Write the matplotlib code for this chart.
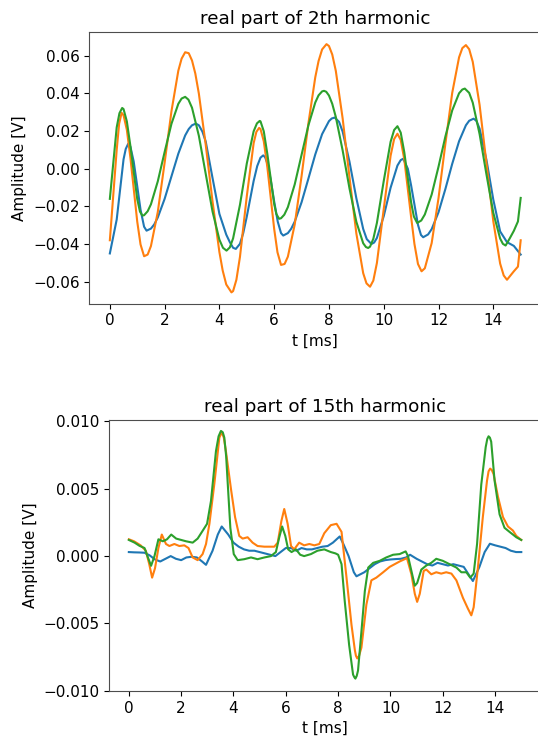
import matplotlib
matplotlib.use('Agg')
import matplotlib.pyplot as plt

plt.rcParams['font.size'] = 11

# (t [ms], amplitude [V]) samples, 2nd harmonic
blue_2 = [(0.0, -0.045), (0.25, -0.027), (0.5, 0.005), (0.58, 0.0105), (0.67, 0.0133),
          (0.75, 0.0117), (0.87, 0.0039), (1.0, -0.0093), (1.12, -0.0217), (1.25, -0.0308),
          (1.34, -0.0329), (1.5, -0.0318), (1.62, -0.0296), (1.75, -0.0259), (2.0, -0.0160),
          (2.25, -0.0040), (2.5, 0.0080), (2.75, 0.0177), (2.88, 0.0211), (3.0, 0.0231),
          (3.14, 0.0240), (3.25, 0.0231), (3.38, 0.0197), (3.5, 0.0145), (3.75, -0.0050),
          (4.0, -0.0240), (4.25, -0.0350), (4.38, -0.0390), (4.5, -0.0420), (4.6, -0.0426),
          (4.75, -0.0399), (4.87, -0.0342), (5.0, -0.0254), (5.25, -0.0065), (5.38, 0.0014),
          (5.5, 0.0059), (5.6, 0.0071), (5.67, 0.0061), (5.75, 0.0028), (5.87, -0.0057),
          (6.0, -0.0174), (6.13, -0.0281), (6.25, -0.0342), (6.33, -0.0355), (6.5, -0.0342),
          (6.62, -0.0319), (6.75, -0.0281), (7.0, -0.0178), (7.25, -0.0052), (7.5, 0.0076),
          (7.75, 0.0184), (8.0, 0.0253), (8.1, 0.0267), (8.21, 0.0272), (8.37, 0.0249),
          (8.5, 0.0197), (8.75, 0.0037), (9.0, -0.0157), (9.25, -0.0320), (9.38, -0.0374),
          (9.55, -0.0400), (9.65, -0.0392), (9.75, -0.0368), (10.0, -0.0252), (10.25, -0.0101),
          (10.5, 0.0017), (10.62, 0.0046), (10.71, 0.0053), (10.88, 0.0), (11.0, -0.0089),
          (11.25, -0.0298), (11.36, -0.0352), (11.44, -0.0364), (11.62, -0.0349), (11.75, -0.0321),
          (12.0, -0.0231), (12.25, -0.0108), (12.5, 0.0026), (12.75, 0.0146), (13.0, 0.0231),
          (13.12, 0.0255), (13.28, 0.0266), (13.38, 0.0255), (13.5, 0.0213), (13.75, 0.0047),
          (14.0, -0.0164), (14.25, -0.0333), (14.5, -0.0390), (14.75, -0.0410), (15.0, -0.0456)]

orange_2 = [(0.0, -0.038), (0.25, 0.010), (0.34, 0.024), (0.43, 0.0297), (0.5, 0.0284),
            (0.62, 0.0207), (0.75, 0.0059), (1.0, -0.0281), (1.12, -0.0402), (1.25, -0.0465),
            (1.38, -0.0456), (1.5, -0.0411), (1.75, -0.0230), (2.0, 0.0032), (2.25, 0.0306),
            (2.5, 0.0521), (2.62, 0.0585), (2.75, 0.0619), (2.88, 0.0614), (3.0, 0.0575),
            (3.12, 0.0506), (3.25, 0.0399), (3.5, 0.0128), (3.75, -0.0175), (4.0, -0.0443),
            (4.12, -0.0541), (4.25, -0.0615), (4.44, -0.0657), (4.5, -0.0650), (4.62, -0.0590),
            (4.75, -0.0469), (5.0, -0.0146), (5.25, 0.0136), (5.35, 0.0196), (5.45, 0.0217),
            (5.5, 0.0211), (5.62, 0.0146), (5.75, 0.0009), (6.0, -0.0320), (6.12, -0.0444),
            (6.25, -0.0511), (6.38, -0.0506), (6.5, -0.0467), (6.75, -0.0296), (7.0, -0.0039),
            (7.25, 0.0242), (7.5, 0.0486), (7.62, 0.0572), (7.75, 0.0634), (7.91, 0.0662),
            (8.0, 0.0652), (8.12, 0.0607), (8.25, 0.0520), (8.5, 0.0267), (8.75, -0.0046),
            (9.0, -0.0344), (9.25, -0.0555), (9.37, -0.0609), (9.5, -0.0627), (9.62, -0.0594),
            (9.75, -0.0501), (10.0, -0.0214), (10.25, 0.0069), (10.38, 0.0158), (10.5, 0.0186),
            (10.62, 0.0153), (10.75, 0.0050), (11.0, -0.0257), (11.12, -0.0399), (11.25, -0.0506),
            (11.38, -0.0545), (11.5, -0.0529), (11.75, -0.0395), (12.0, -0.0156), (12.25, 0.0132),
            (12.5, 0.0403), (12.75, 0.0592), (12.87, 0.0641), (13.0, 0.0657), (13.12, 0.0635),
            (13.25, 0.0568), (13.5, 0.0339), (13.75, 0.0029), (14.0, -0.0279), (14.25, -0.0504),
            (14.38, -0.0567), (14.5, -0.0590), (14.75, -0.0545), (14.9, -0.0520), (15.0, -0.038)]

green_2 = [(0.0, -0.016), (0.25, 0.022), (0.35, 0.0295), (0.45, 0.0323), (0.5, 0.0317),
           (0.62, 0.0252), (0.75, 0.0121), (1.0, -0.0161), (1.1, -0.0228), (1.19, -0.0249),
           (1.25, -0.0247), (1.38, -0.0226), (1.5, -0.0189), (1.75, -0.0067), (2.0, 0.0089),
           (2.25, 0.0239), (2.5, 0.0345), (2.62, 0.0373), (2.75, 0.0382), (2.87, 0.0367),
           (3.0, 0.0324), (3.25, 0.0175), (3.5, -0.0027), (3.75, -0.0228), (4.0, -0.0377),
           (4.13, -0.0420), (4.26, -0.0435), (4.38, -0.0418), (4.5, -0.0370), (4.75, -0.0192),
           (5.0, 0.0028), (5.25, 0.0199), (5.37, 0.0241), (5.47, 0.0254), (5.5, 0.0252),
           (5.62, 0.0199), (5.75, 0.0079), (6.0, -0.0187), (6.08, -0.0241), (6.18, -0.0266),
           (6.25, -0.0263), (6.37, -0.0244), (6.5, -0.0204), (6.75, -0.0083), (7.0, 0.0074),
           (7.25, 0.0231), (7.5, 0.0352), (7.62, 0.0390), (7.75, 0.0411), (7.82, 0.0414),
           (7.9, 0.0409), (8.0, 0.0389), (8.12, 0.0345), (8.25, 0.0275), (8.5, 0.0097),
           (8.75, -0.0105), (9.0, -0.0282), (9.25, -0.0396), (9.35, -0.0416), (9.43, -0.0421),
           (9.5, -0.0414), (9.62, -0.0372), (9.75, -0.0288), (10.0, -0.0065), (10.25, 0.0143),
           (10.38, 0.0206), (10.5, 0.0226), (10.62, 0.0192), (10.75, 0.0088), (11.0, -0.0179),
           (11.1, -0.0254), (11.22, -0.0288), (11.37, -0.0275), (11.5, -0.0243), (11.75, -0.0137),
           (12.0, 0.0011), (12.25, 0.0171), (12.5, 0.0310), (12.75, 0.0401), (12.87, 0.0421),
           (12.96, 0.0426), (13.12, 0.0403), (13.25, 0.0351), (13.5, 0.0184), (13.75, -0.0030),
           (14.0, -0.0234), (14.25, -0.0371), (14.35, -0.0399), (14.45, -0.0408), (14.6, -0.0370),
           (14.75, -0.0330), (14.9, -0.0280), (15.0, -0.0155)]

# 15th harmonic
blue_15 = [(0.0, 0.0003), (0.2, 0.00028), (0.4, 0.00027), (0.6, 0.00025), (0.8, 0.00005),
           (1.0, -0.00025), (1.2, -0.0004), (1.4, -0.0002), (1.6, 0.0), (1.8, -0.0002),
           (2.0, -0.0003), (2.2, -0.0001), (2.4, -0.00005), (2.6, -0.0001), (2.8, -0.0004),
           (2.95, -0.00065), (3.2, 0.0004), (3.4, 0.0016), (3.55, 0.0022), (3.8, 0.0016),
           (4.0, 0.0010), (4.2, 0.0007), (4.4, 0.0005), (4.6, 0.0004), (4.8, 0.0004),
           (5.0, 0.0003), (5.2, 0.0002), (5.4, 0.0001), (5.6, 0.0), (5.8, 0.0003),
           (6.0, 0.0006), (6.2, 0.0006), (6.4, 0.0004), (6.6, 0.0006), (6.8, 0.0005),
           (7.0, 0.0005), (7.2, 0.0006), (7.4, 0.0007), (7.6, 0.00075), (7.8, 0.0010),
           (8.06, 0.00146), (8.2, 0.0009), (8.4, 0.0), (8.6, -0.0012), (8.7, -0.0015),
           (9.0, -0.0012), (9.2, -0.0009), (9.4, -0.0006), (9.6, -0.0004), (9.8, -0.0003),
           (10.0, -0.00025), (10.2, -0.00022), (10.4, -0.0002), (10.6, -0.0001), (10.75, 0.0001),
           (11.0, -0.0002), (11.2, -0.0004), (11.4, -0.0006), (11.6, -0.0007), (11.8, -0.0005),
           (12.0, -0.0006), (12.2, -0.0007), (12.4, -0.0006), (12.6, -0.0007), (12.8, -0.0008),
           (13.0, -0.0014), (13.15, -0.00185), (13.4, -0.0008), (13.6, 0.0003), (13.8, 0.00092),
           (14.0, 0.0008), (14.2, 0.0007), (14.4, 0.0006), (14.6, 0.0004), (14.8, 0.0003),
           (15.0, 0.0003)]

orange_15 = [(0.0, 0.00125), (0.2, 0.0011), (0.45, 0.0008), (0.65, 0.0004), (0.78, -0.0006),
             (0.89, -0.0016), (1.0, -0.0009), (1.13, 0.0006), (1.26, 0.0016), (1.42, 0.0009),
             (1.55, 0.00075), (1.74, 0.0009), (1.93, 0.00075), (2.12, 0.0008), (2.28, 0.0006),
             (2.44, -0.0001), (2.63, -0.0003), (2.82, 0.00015), (2.95, 0.0009), (3.08, 0.0024),
             (3.27, 0.0054), (3.46, 0.0088), (3.55, 0.0092), (3.63, 0.0088), (3.71, 0.0078),
             (3.91, 0.0049), (4.06, 0.0029), (4.22, 0.0015), (4.35, 0.0013), (4.54, 0.0014),
             (4.73, 0.0010), (4.92, 0.00075), (5.18, 0.0007), (5.56, 0.0007), (5.69, 0.0010),
             (5.83, 0.0026), (5.94, 0.0035), (6.07, 0.0024), (6.2, 0.00075), (6.32, 0.0005),
             (6.51, 0.0010), (6.7, 0.0008), (6.9, 0.0009), (7.09, 0.0008), (7.28, 0.0009),
             (7.47, 0.0017), (7.72, 0.0023), (7.94, 0.0024), (8.13, 0.0018), (8.32, -0.0016),
             (8.51, -0.0051), (8.64, -0.0070), (8.68, -0.0074), (8.73, -0.0076), (8.8, -0.0074),
             (8.89, -0.0068), (9.08, -0.0036), (9.27, -0.0018), (9.46, -0.0016), (9.72, -0.0012),
             (9.97, -0.0008), (10.35, -0.0004), (10.63, -0.00015), (10.8, -0.00135), (10.93, -0.0028),
             (11.02, -0.0034), (11.12, -0.0028), (11.27, -0.0011), (11.37, -0.0010), (11.56, -0.00135),
             (11.75, -0.0012), (11.94, -0.0013), (12.13, -0.0012), (12.33, -0.0013), (12.52, -0.0018),
             (12.77, -0.0031), (12.96, -0.0039), (13.09, -0.0044), (13.18, -0.0038), (13.34, -0.0009),
             (13.53, 0.0029), (13.69, 0.0056), (13.75, 0.0063), (13.81, 0.0065), (13.87, 0.0064),
             (13.94, 0.0061), (14.11, 0.0044), (14.3, 0.0029), (14.49, 0.0022), (14.68, 0.0019),
             (14.81, 0.0015), (15.0, 0.0012)]

green_15 = [(0.0, 0.0012), (0.22, 0.0010), (0.41, 0.00076), (0.6, 0.0006), (0.73, -0.0001),
            (0.85, -0.00072), (0.98, 0.0), (1.13, 0.00125), (1.3, 0.0011), (1.46, 0.00125),
            (1.62, 0.0016), (1.81, 0.0013), (2.0, 0.0012), (2.19, 0.0011), (2.44, 0.0010),
            (2.63, 0.0013), (2.86, 0.0020), (2.99, 0.0024), (3.14, 0.0041), (3.33, 0.0078),
            (3.43, 0.0089), (3.52, 0.0093), (3.59, 0.0092), (3.65, 0.0088), (3.72, 0.0074),
            (3.78, 0.0054), (3.88, 0.0021), (4.01, 0.00015), (4.16, -0.0003), (4.41, -0.00023),
            (4.67, -0.0001), (4.92, -0.00023), (5.18, -0.0001), (5.43, 0.0), (5.62, 0.0003),
            (5.75, 0.0014), (5.86, 0.0022), (5.98, 0.0015), (6.09, 0.0005), (6.22, 0.0003),
            (6.39, 0.0005), (6.55, 0.0001), (6.7, 0.0), (6.96, 0.00015), (7.21, 0.0004),
            (7.47, 0.0005), (7.72, 0.0003), (7.9, 0.0002), (8.0, 0.0001), (8.13, -0.0006),
            (8.25, -0.0033), (8.42, -0.0066), (8.57, -0.0088), (8.62, -0.0090), (8.66, -0.0091),
            (8.71, -0.0089), (8.76, -0.0085), (8.89, -0.0056), (9.02, -0.0026), (9.15, -0.00085),
            (9.34, -0.0005), (9.59, -0.00035), (9.84, -0.0001), (10.1, 0.0001), (10.35, 0.00015),
            (10.58, 0.00035), (10.67, 0.0), (10.8, -0.0011), (10.93, -0.0022), (11.02, -0.0020),
            (11.18, -0.0010), (11.37, -0.0007), (11.56, -0.0005), (11.75, -0.0002), (12.0, -0.00035),
            (12.26, -0.0006), (12.52, -0.00085), (12.71, -0.0012), (12.9, -0.0012), (13.05, -0.0016),
            (13.18, -0.0013), (13.31, 0.0009), (13.47, 0.0053), (13.64, 0.0081), (13.7, 0.0087),
            (13.75, 0.0089), (13.8, 0.0088), (13.85, 0.0085), (13.98, 0.0056), (14.17, 0.0031),
            (14.36, 0.0021), (14.55, 0.0018), (14.81, 0.0014), (15.0, 0.0012)]

panels = [
    ('real part of 2th harmonic', [blue_2, orange_2, green_2], (-0.0717, 0.0726),
     [0.166, 0.5885, 0.840, 0.368]),
    ('real part of 15th harmonic', [blue_15, orange_15, green_15], (-0.01002, 0.0101),
     [0.203, 0.0637, 0.8024, 0.367]),
]
colors = ['tab:blue', 'tab:orange', 'tab:green']

fig = plt.figure(figsize=(5.38, 7.38), dpi=100)

for title, series, ylim, pos in panels:
    ax = fig.add_axes(pos)
    for data, c in zip(series, colors):
        t = [p[0] for p in data]
        v = [p[1] for p in data]
        ax.plot(t, v, color=c, lw=1.5)
    ax.set_xlim(-0.75, 15.75)
    ax.set_ylim(*ylim)
    ax.set_title(title)
    ax.set_xlabel('t [ms]')
    ax.set_ylabel('Amplitude [V]')
    # the reference is cut just before the right spine
    ax.spines['right'].set_visible(False)
    for s in ['left', 'top', 'bottom']:
        ax.spines[s].set_color('0.3')

fig.savefig('out.png', dpi=100)
